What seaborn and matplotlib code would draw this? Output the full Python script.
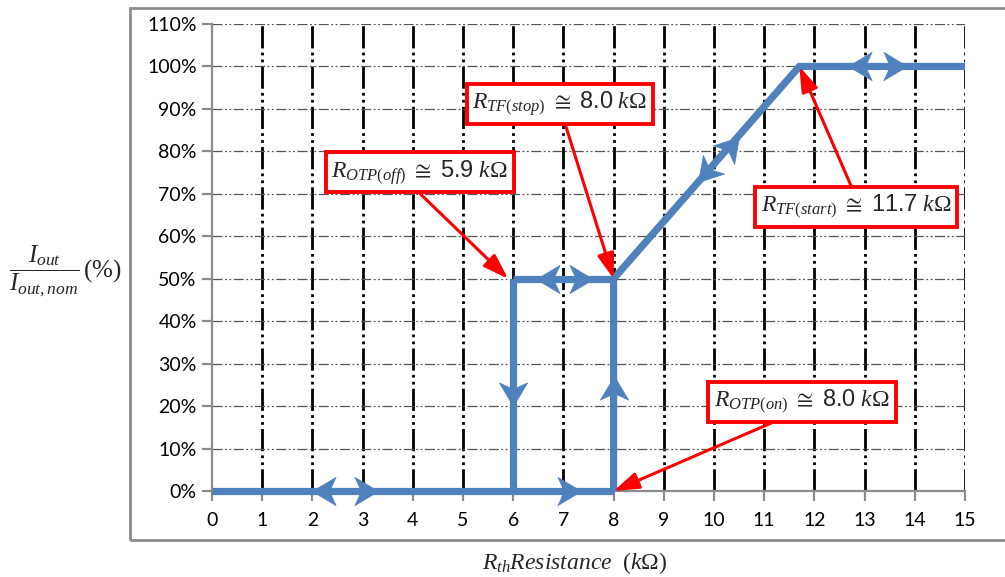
import matplotlib.pyplot as plt
import seaborn as sns
import numpy as np
import pandas as pd
from matplotlib.markers import MarkerStyle
from matplotlib.path import Path
from matplotlib.patches import Rectangle
from matplotlib.transforms import Affine2D

# --- data -------------------------------------------------------------
# characteristic curve, one entry per drawn segment
seg_id = [0, 0, 1, 1, 2, 2, 3, 3, 3, 3]
seg_r = [0, 8, 6, 6, 6, 8, 8, 8, 11.7, 15]
seg_i = [0, 0, 0, 50, 50, 50, 0, 50, 100, 100]

# direction arrows on the curve (tip position + direction)
arrow_r = [2.0, 3.3, 7.35, 6.0, 8.0, 6.45, 7.6, 9.68, 10.5, 12.67, 13.84]
arrow_i = [0, 0, 0, 20, 27, 50, 50, 72.7, 83.5, 100, 100]
arrow_dr = [-1, 1, 1, 0, 0, -1, 1, -3.7, 3.7, -1, 1]
arrow_di = [0, 0, 0, -1, 1, 0, 0, -50, 50, 0, 0]

# callouts
callout_text = [r'$R_{OTP(off)}\ \cong\ \mathsf{5.9}\ k\Omega$',
                r'$R_{TF(stop)}\ \cong\ \mathsf{8.0}\ k\Omega$',
                r'$R_{TF(start)}\ \cong\ \mathsf{11.7}\ k\Omega$',
                r'$R_{OTP(on)}\ \cong\ \mathsf{8.0}\ k\Omega$']
callout_r = [5.9, 8.0, 11.7, 8.0]
callout_i = [50, 50, 100, 0]

x_ticks = list(range(0, 16))
y_ticks = list(range(0, 111, 10))

# --- style ------------------------------------------------------------
sns.set_theme(style='white')
plt.rcParams['font.family'] = ['Lato', 'DejaVu Sans']
plt.rcParams['mathtext.fontset'] = 'custom'
plt.rcParams['mathtext.rm'] = 'Liberation Serif'
plt.rcParams['mathtext.it'] = 'Liberation Serif:italic'
plt.rcParams['mathtext.sf'] = 'Liberation Sans'

blue = '#4F81BD'

fig = plt.figure(figsize=(10.05, 5.77), dpi=100)
ax = fig.add_axes([0.2109, 0.1490, 0.7493, 0.8094])

# outer chart frame
fig.patches.append(Rectangle((0.1294, 0.0641), 0.90, 0.9220, transform=fig.transFigure,
                             fill=False, edgecolor='#8c8c8c', lw=2, zorder=0))

ax.set_xlim(0, 15)
ax.set_ylim(0, 110)

# grid
for x in x_ticks[1:]:
    ax.axvline(x, color='black', lw=2, ls=(0, (8, 1.5, 1, 1.5, 1, 1.5)), zorder=1)
for y in y_ticks[1:]:
    ax.axhline(y, color='#555555', lw=0.9, ls=(0, (8, 2, 1.5, 2, 1.5, 2)), zorder=1)

df = pd.DataFrame({'seg': seg_id, 'r': seg_r, 'i': seg_i})
sns.lineplot(data=df, x='r', y='i', units='seg', estimator=None, sort=False,
             color=blue, lw=5.2, ax=ax, zorder=3, clip_on=False,
             solid_joinstyle='miter', solid_capstyle='butt')

# notched arrow heads, tip at the origin
head = Path([(0, 0), (-2, 1.2), (-1.45, 0), (-2, -1.2), (0, 0)],
            [Path.MOVETO, Path.LINETO, Path.LINETO, Path.LINETO, Path.CLOSEPOLY])
for r, i, dr, di in zip(arrow_r, arrow_i, arrow_dr, arrow_di):
    p0, p1 = ax.transData.transform([[r, i], [r + dr, i + di]])
    ang = np.degrees(np.arctan2(p1[1] - p0[1], p1[0] - p0[0]))
    m = MarkerStyle(head, transform=Affine2D().rotate_deg(ang))
    ax.plot([r], [i], marker=m, ms=34, color=blue, mec=blue, mew=0.5,
            linestyle='none', zorder=4, clip_on=False)

# callouts
text_pos = [(4.14, 75.1), (6.93, 91.2), (12.83, 66.9), (11.75, 21.0)]
rel = [(0.46, 0), (0.52, 0), (0.49, 1), (0.42, 0)]
for txt, r, i, pos, rp in zip(callout_text, callout_r, callout_i, text_pos, rel):
    ax.annotate(txt, xy=(r, i), xytext=pos, ha='center', va='center',
                fontsize=17, zorder=6,
                bbox=dict(boxstyle='square,pad=0.25', fc='white', ec='#ff0000', lw=2.8),
                arrowprops=dict(arrowstyle='-|>,head_length=0.9,head_width=0.3',
                                color='#ff0000', lw=2.2, relpos=rp,
                                shrinkA=0, shrinkB=0))

# axes cosmetics
sns.despine(ax=ax)
for s in ['left', 'bottom']:
    ax.spines[s].set_color('#8c8c8c')
    ax.spines[s].set_linewidth(1.6)
    ax.spines[s].set_zorder(2)
ax.set_xticks(x_ticks)
ax.set_yticks(y_ticks)
ax.set_yticklabels([f'{v}%' for v in y_ticks])
ax.tick_params(axis='both', direction='out', length=7, width=1.6, color='#8c8c8c',
               labelsize=14, labelcolor='black', bottom=True, left=True)
ax.tick_params(axis='y', pad=4)
ax.tick_params(axis='x', pad=8)

ax.set_ylabel(r'$\dfrac{I_{out}}{I_{out,nom}}\,(\%)$', rotation=0, fontsize=18,
              ha='center', va='center')
ax.yaxis.set_label_coords(-0.195, 0.473)
ax.set_xlabel(r'$R_{th}Resistance\ \ (k\Omega)$', fontsize=17, ha='center', va='center')
ax.xaxis.set_label_coords(0.482, -0.154)

fig.savefig('out.png', dpi=100)
